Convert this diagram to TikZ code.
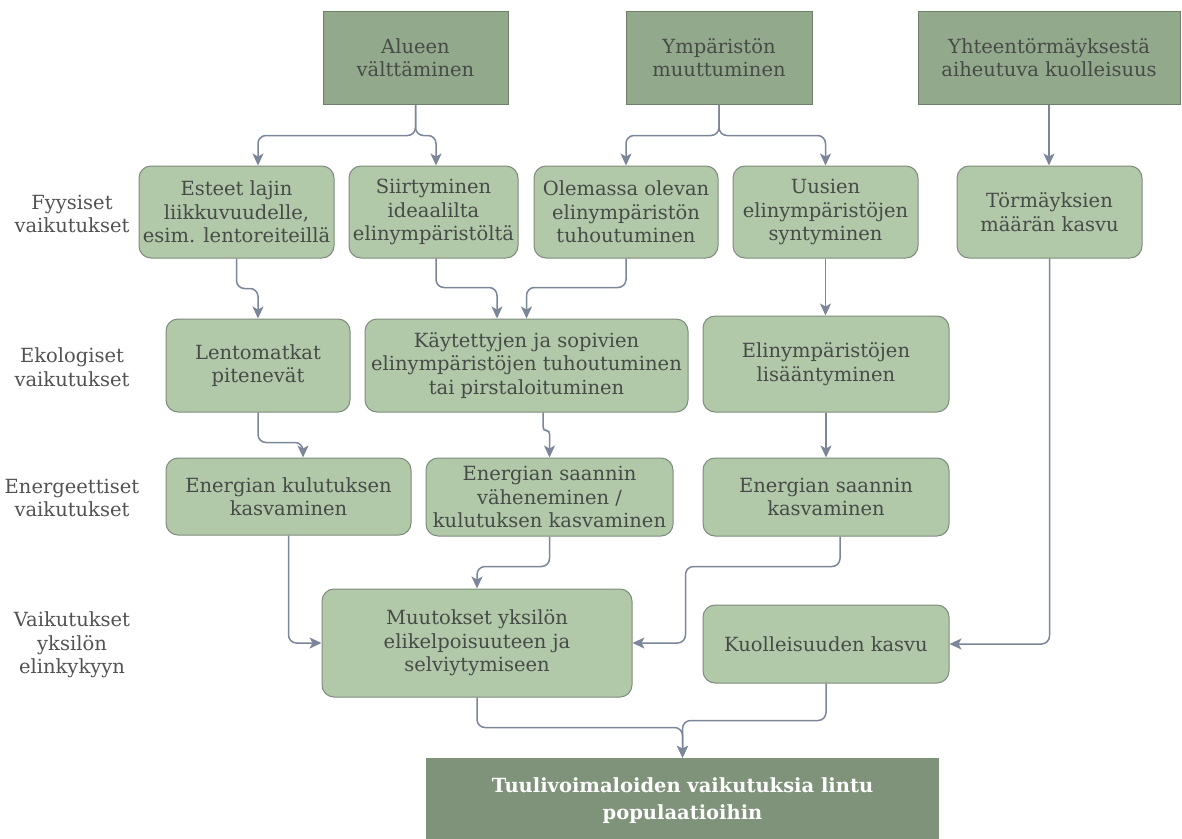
\documentclass[tikz,border=0pt]{standalone}
\usepackage{fontspec}
\setmainfont{DejaVu Serif}
\usetikzlibrary{arrows.meta}
\definecolor{topfill}{HTML}{93A98C}
\definecolor{topdraw}{HTML}{6E7E6B}
\definecolor{boxfill}{HTML}{B1C8A9}
\definecolor{boxdraw}{HTML}{7D8C7C}
\definecolor{finfill}{HTML}{7E9379}
\definecolor{conncol}{HTML}{7B8699}
\definecolor{txt}{HTML}{474B47}
\definecolor{lbl}{HTML}{525252}
\begin{document}
\begin{tikzpicture}[x=1pt,y=-1pt,
  every node/.style={font=\fontsize{19.5}{23.5}\selectfont, align=center, inner sep=0pt, text=txt},
  topbox/.style={draw=topdraw, fill=topfill, line width=1pt, minimum width=#1, minimum height=93pt},
  rbox/.style={draw=boxdraw, fill=boxfill, line width=1pt, rounded corners=12pt, minimum width=#1},
  rowlabel/.style={text=lbl},
  finbox/.style={fill=finfill, text=white, minimum width=513pt, minimum height=86pt,
    font=\fontsize{19.5}{27}\selectfont\bfseries},
  conn/.style={draw=conncol, line width=1.5pt, rounded corners=8pt,
    -{Stealth[length=12pt,width=11pt,inset=3pt]}}
]
\useasboundingbox (0,0) rectangle (1182,838);

% top boxes
\node[topbox=185pt] (A) at (415.5,57.5) {Alueen\\välttäminen};
\node[topbox=186pt] (Y) at (719,57.5) {Ympäristön\\muuttuminen};
\node[topbox=262pt] (C) at (1049,57.5) {Yhteentörmäyksestä\\aiheutuva kuolleisuus};

% row labels
\node[rowlabel] (l1) at (72,214) {Fyysiset\\vaikutukset};
\node[rowlabel] (l2) at (72,367) {Ekologiset\\vaikutukset};
\node[rowlabel] (l3) at (72,498) {Energeettiset\\vaikutukset};
\node[rowlabel] (l4) at (72,645) {Vaikutukset\\yksilön\\elinkykyyn};

% row 1
\node[rbox=195pt, minimum height=92pt] (E1) at (236.5,212) {Esteet lajin\\liikkuvuudelle,\\esim. lentoreiteillä};
\node[rbox=169pt, minimum height=92pt] (E2) at (433.5,212) {Siirtyminen\\ideaalilta\\elinympäristöltä};
\node[rbox=184pt, minimum height=92pt] (E3) at (626,212) {Olemassa olevan\\elinympäristön\\tuhoutuminen};
\node[rbox=185pt, minimum height=92pt] (E4) at (825.5,212) {Uusien\\elinympäristöjen\\syntyminen};
\node[rbox=185pt, minimum height=92pt] (E5) at (1049.5,212) {Törmäyksien\\määrän kasvu};

% row 2
\node[rbox=184pt, minimum height=93pt] (L1) at (258,365.5) {Lentomatkat\\pitenevät};
\node[rbox=323pt, minimum height=93pt] (L2) at (526.5,365.5) {Käytettyjen ja sopivien\\elinympäristöjen tuhoutuminen\\tai pirstaloituminen};
\node[rbox=246pt, minimum height=96pt] (L3) at (826,364) {Elinympäristöjen\\lisääntyminen};

% row 3
\node[rbox=245pt, minimum height=77pt] (N1) at (288.5,496.5) {Energian kulutuksen\\kasvaminen};
\node[rbox=247pt, minimum height=78pt] (N2) at (549.5,497) {Energian saannin\\väheneminen /\\kulutuksen kasvaminen};
\node[rbox=246pt, minimum height=78pt] (N3) at (826,497) {Energian saannin\\kasvaminen};

% row 4
\node[rbox=310pt, minimum height=108pt] (M) at (477,643) {Muutokset yksilön\\elikelpoisuuteen ja\\selviytymiseen};
\node[rbox=246pt, minimum height=78pt] (K) at (826,644) {Kuolleisuuden kasvu};

% final
\node[finbox] (F) at (682.5,801) {Tuulivoimaloiden vaikutuksia lintu\\populaatioihin};

% connectors
\draw[conn] (A.south) -- ++(0,31) -| ([xshift=21.5pt]E1.north);
\draw[conn] (A.south) -- ++(0,31) -| ([xshift=2.5pt]E2.north);
\draw[conn] (Y.south) -- ++(0,31) -| (E3.north);
\draw[conn] (Y.south) -- ++(0,31) -| (E4.north);
\draw[conn] (C.south) -- (C.south |- E5.north);

\draw[conn] (E1.south) -- ++(0,30) -| ([xshift=21.5pt]E1.south |- L1.north);
\draw[conn] ([xshift=2.5pt]E2.south) -- ++(0,29) -| ([xshift=-29.5pt]L2.north);
\draw[conn] (E3.south) -- ++(0,29) -| (L2.north);
\draw[conn] (E4.south) -- (E4.south |- L3.north);
\draw[conn] (E5.south) |- (K.east);

\draw[conn] (L1.south) -- ++(0,30) -| ([xshift=14.5pt]N1.north);
\draw[conn, rounded corners=3.5pt] ([xshift=16.5pt]L2.south) -- ++(0,18) -| (N2.north);
\draw[conn] (L3.south) -- (L3.south |- N3.north);

\draw[conn] (N1.south) |- (M.west);
\draw[conn] (N2.south) -- ++(0,30) -| (M.north);
\draw[conn] ([xshift=14pt]N3.south) -- ++(0,30) -| ([xshift=53pt]M.east) -- (M.east);

\draw[conn] (M.south) -- ++(0,30) -| (F.north);
\draw[conn] (K.south) -- ++(0,37) -| (F.north);
\end{tikzpicture}
\end{document}
